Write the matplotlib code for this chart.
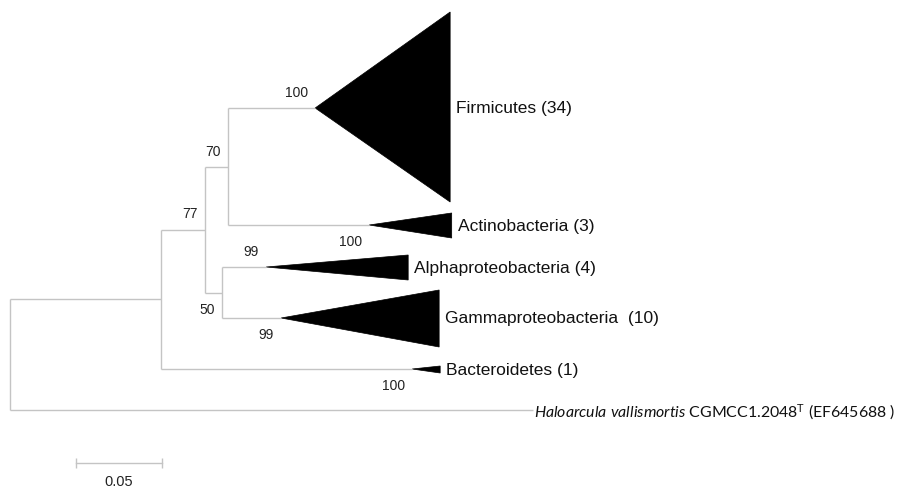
import matplotlib
matplotlib.use('Agg')
import matplotlib.pyplot as plt
from matplotlib.patches import Polygon

plt.rcParams['mathtext.fontset'] = 'custom'
plt.rcParams['mathtext.rm'] = 'Lato'
plt.rcParams['mathtext.it'] = 'Lato:italic'

# collapsed clades, top to bottom
clades = ['Firmicutes (34)', 'Actinobacteria (3)', 'Alphaproteobacteria (4)',
          'Gammaproteobacteria  (10)', 'Bacteroidetes (1)']
clade_stem = [0.0506, 0.0820, 0.0256, 0.0343, 0.1460]   # branch length to clade
clade_depth = [0.0785, 0.0480, 0.0826, 0.0919, 0.0163]  # depth of collapsed clade
clade_support = [100, 100, 99, 99, 100]

# internal nodes: A = (B, Bacteroidetes), B = (C, D), C = (Firm, Actino), D = (Alpha, Gamma)
node_len = {'A': 0.0878, 'B': 0.0256, 'C': 0.0134, 'D': 0.0099}
node_support = {'B': 77, 'C': 70, 'D': 50}

outgroup = r'$\it{Haloarcula\ vallismortis}$ CGMCC1.2048$^{\rm T}$ (EF645688 )'
outgroup_len = 0.304

scale_len = 0.05

# ---- layout (pixel rows, pixel per unit) ----
PX = 1720.0
tip_y = [109, 226, 268, 319, 370]
tri_top = [13, 214, 256, 291, 367]
tri_bot = [203, 239, 281, 348, 374]
out_y = 411
line_col = '#c4c4c4'
lw = 1.0
sans = 'Liberation Sans'

fig = plt.figure(figsize=(8.97, 4.89), dpi=100)
ax = fig.add_axes([0, 0, 1, 1])
ax.set_xlim(-10 / PX, 887 / PX)
ax.set_ylim(489, 0)
ax.axis('off')

def hline(x0, x1, y):
    ax.plot([x0, x1], [y, y], color=line_col, lw=lw, solid_capstyle='butt')

def vline(x, y0, y1):
    ax.plot([x, x], [y0, y1], color=line_col, lw=lw, solid_capstyle='butt')

def support_label(x, y, val, above):
    dy = -16 if above else 16
    ax.text(x - 7 / PX, y + dy, str(val), ha='right', va='center',
            fontsize=10, family=sans, color='#222222')

# node x positions
xA = node_len['A']
xB = xA + node_len['B']
xC = xB + node_len['C']
xD = xB + node_len['D']
parent_x = [xC, xC, xD, xD, xA]
above = [True, False, True, False, False]

# clades
for i in range(len(clades)):
    x0 = parent_x[i]
    x1 = x0 + clade_stem[i]
    x2 = x1 + clade_depth[i]
    hline(x0, x1, tip_y[i])
    ax.add_patch(Polygon([[x1, tip_y[i]], [x2, tri_top[i]], [x2, tri_bot[i]]],
                         closed=True, facecolor='black', edgecolor='black', lw=0.5))
    ax.text(x2 + 6 / PX, tip_y[i], clades[i], ha='left', va='center',
            fontsize=12.5, family=sans, color='#111111')
    support_label(x1, tip_y[i], clade_support[i], above[i])

# internal structure
yC = (tip_y[0] + tip_y[1]) / 2
yD = (tip_y[2] + tip_y[3]) / 2
yB = (yC + yD) / 2
yA = (yB + tip_y[4]) / 2

vline(xC, tip_y[0], tip_y[1])
vline(xD, tip_y[2], tip_y[3])
hline(xB, xC, yC)
hline(xB, xD, yD)
vline(xB, yC, yD)
hline(xA, xB, yB)
vline(xA, yB, tip_y[4])
hline(0, xA, yA)
vline(0, yA, out_y)
hline(0, outgroup_len, out_y)

support_label(xC, yC, node_support['C'], True)
support_label(xB, yB, node_support['B'], True)
support_label(xD, yD, node_support['D'], False)

ax.text(outgroup_len + 1 / PX, out_y + 1, outgroup, ha='left', va='center',
        fontsize=11.4, family='Lato', color='#111111')

# scale bar
sx0 = 66 / PX
sy = 464
ax.plot([sx0, sx0 + scale_len], [sy, sy], color=line_col, lw=lw)
vline(sx0, sy - 5, sy + 5)
vline(sx0 + scale_len, sy - 5, sy + 5)
ax.text(sx0 + scale_len / 2, 482, f'{scale_len:.2f}', ha='center', va='center',
        fontsize=10.5, family=sans, color='#222222')

fig.savefig('out.png', dpi=100)
